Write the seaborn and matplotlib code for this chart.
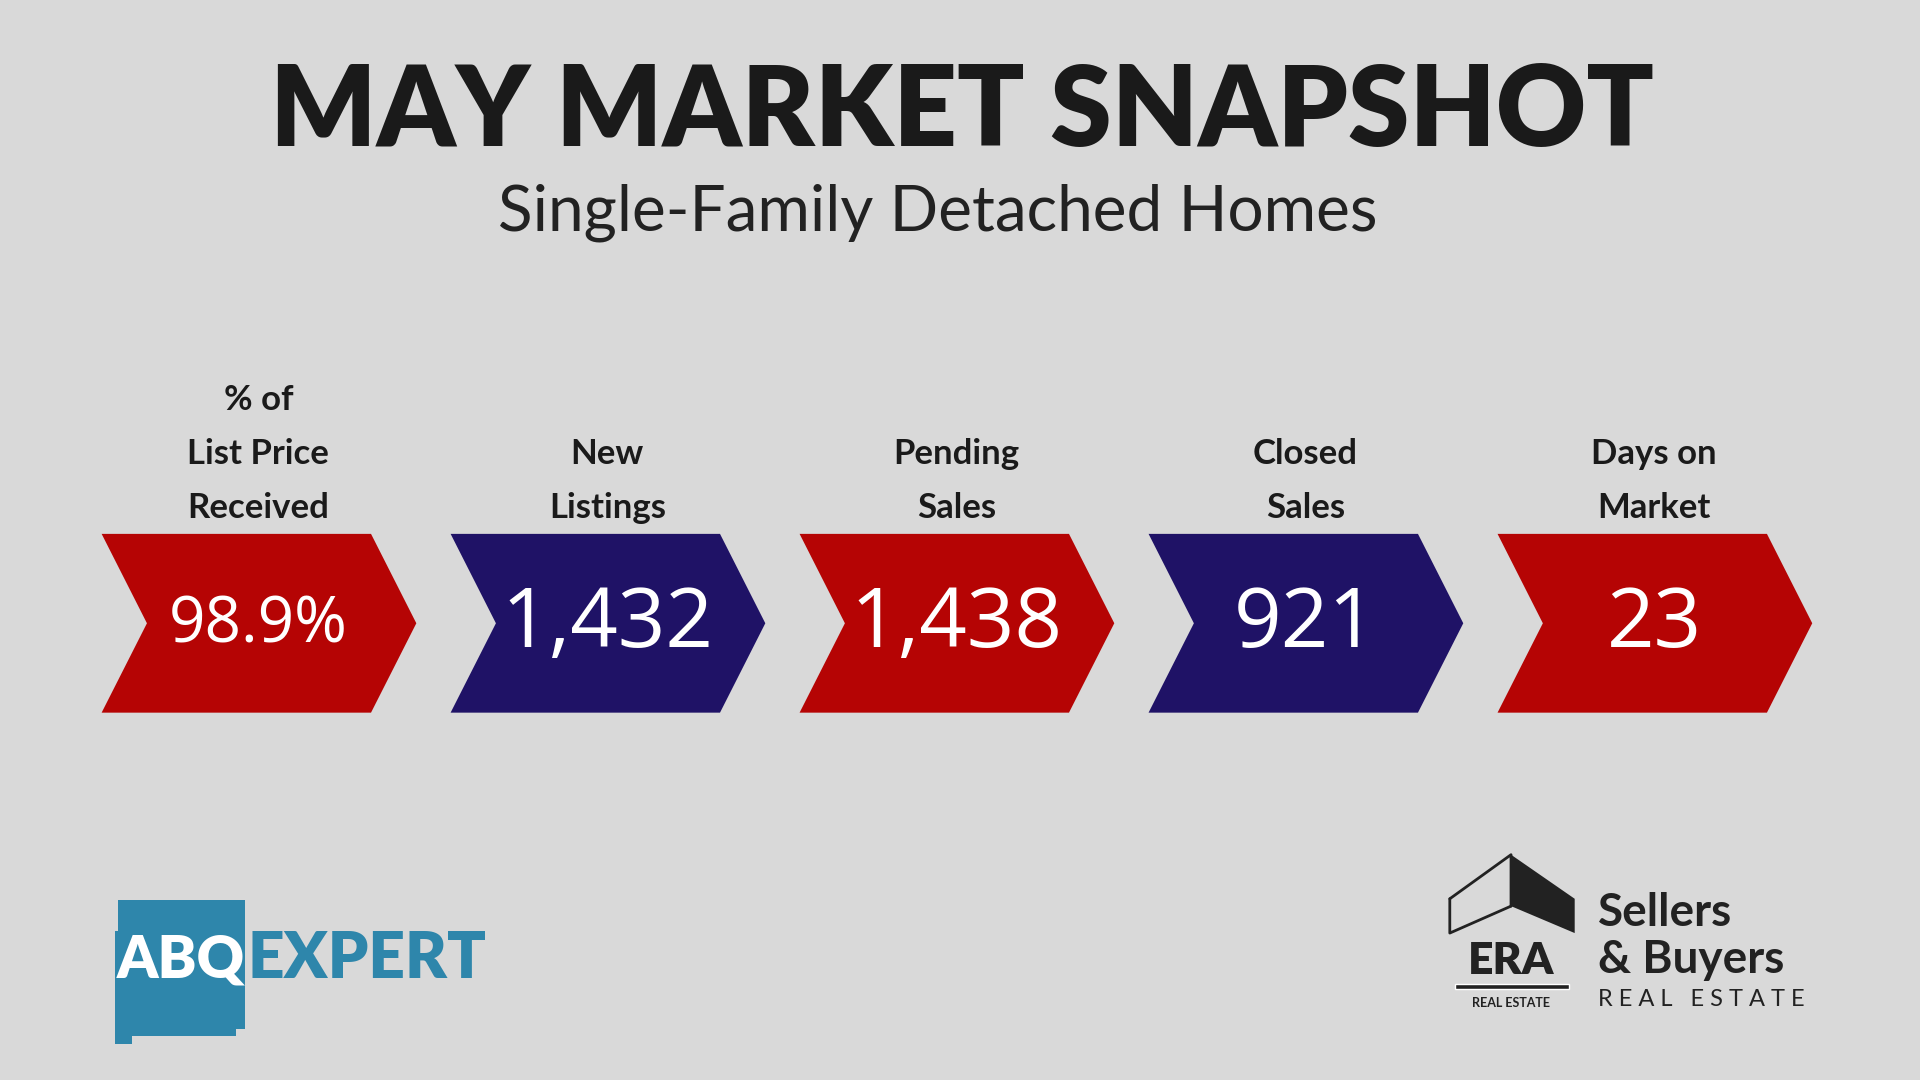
import numpy as np
import matplotlib.pyplot as plt
import seaborn as sns
from matplotlib.patches import Polygon, Rectangle

sns.set_theme(style="white")
plt.rcParams['font.family'] = ['Open Sans', 'DejaVu Sans']

# data
labels = ["% of\nList Price\nReceived", "New\nListings", "Pending\nSales", "Closed\nSales", "Days on\nMarket"]
values = ["98.9%", "1,432", "1,438", "921", "23"]
colors = ["#B50404", "#1F1266", "#B50404", "#1F1266", "#B50404"]

bg = "#D9D9D9"
fig = plt.figure(figsize=(19.2, 10.8), dpi=100, facecolor=bg)
ax = fig.add_axes([0, 0, 1, 1])
ax.set_facecolor(bg)
ax.set_xlim(0, 1568)
ax.set_ylim(882, 0)
ax.axis("off")

ax.text(786, 92, "MAY MARKET SNAPSHOT", ha="center", va="center",
        fontsize=80, fontweight="heavy", color="#1A1A1A", family=["Lato", "DejaVu Sans"])
ax.text(766, 174, "Single-Family Detached Homes", ha="center", va="center",
        fontsize=46, color="#222222", family=["Lato", "DejaVu Sans"])

top, bot, mid = 436, 582, 509
for i, (lab, val, c) in enumerate(zip(labels, values, colors)):
    x0 = 83 + 285 * i
    pts = [(x0, top), (x0 + 220, top), (x0 + 257, mid), (x0 + 220, bot), (x0, bot), (x0 + 37, mid)]
    ax.add_patch(Polygon(pts, closed=True, facecolor=c, edgecolor="none"))
    ax.text(x0 + 128, mid + 2, val, ha="center", va="center", fontsize=46 if i == 0 else 60,
            color="white", family=["Open Sans", "DejaVu Sans"])
    ax.text(x0 + 128, 428, lab, ha="center", va="bottom", fontsize=25,
            fontweight="bold", color="#1A1A1A", linespacing=1.85, family=["Lato", "DejaVu Sans"])

# ABQ Expert logo
ax.add_patch(Polygon([(96, 735), (200, 735), (200, 840), (193, 840), (193, 846), (108, 846),
                      (108, 853), (94, 853), (94, 760), (96, 760)], closed=True,
                     facecolor="#2E86AB", edgecolor="none"))
ax.text(95, 784, "ABQ", ha="left", va="center", fontsize=42, fontweight="heavy",
        color="white", family=["Lato", "DejaVu Sans"])
ax.text(202, 784, "EXPERT", ha="left", va="center", fontsize=46, fontweight="heavy",
        color="#2E86AB", family=["Lato", "DejaVu Sans"])

# ERA logo
ax.add_patch(Polygon([(1234, 698), (1286, 734), (1286, 762), (1234, 740)], closed=True,
                     facecolor="#222222", edgecolor="none"))
ax.plot([1184, 1234, 1234], [734, 698, 740], color="#222222", lw=2)
ax.plot([1184, 1184, 1234], [734, 762, 740], color="#222222", lw=2)
ax.text(1234, 785, "ERA", ha="center", va="center", fontsize=32, fontweight="heavy",
        color="#222222", family=["Lato", "DejaVu Sans"])
ax.add_patch(Rectangle((1188, 804), 93, 4, facecolor="#222222"))
ax.text(1234, 819, "REAL ESTATE", ha="center", va="center", fontsize=9, fontweight="bold",
        color="#222222", family=["Lato", "DejaVu Sans"])
ax.text(1305, 746, "Sellers", ha="left", va="center", fontsize=33, fontweight="bold",
        color="#222222", family=["Lato", "DejaVu Sans"])
ax.text(1305, 784, "& Buyers", ha="left", va="center", fontsize=33, fontweight="bold",
        color="#222222", family=["Lato", "DejaVu Sans"])
ax.text(1305, 816, "R E A L   E S T A T E", ha="left", va="center", fontsize=17,
        color="#222222", family=["Lato", "DejaVu Sans"])

fig.savefig("out.png", dpi=100, facecolor=bg)
